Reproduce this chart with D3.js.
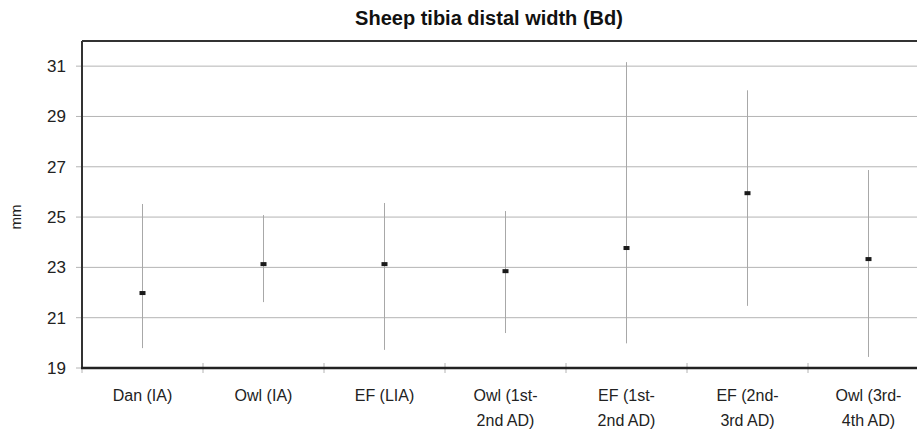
<html>
  <head>
    <script src="https://cdnjs.cloudflare.com/ajax/libs/d3/7.8.5/d3.min.js"></script>
    <style>
      body { margin: 0; background: #fff; font-family: 'Liberation Sans', Arial, sans-serif; }
      svg { display: block; }
      .grid line { stroke: #b4b4b4; stroke-width: 1; }
      .axis text { fill: #222; }
    </style>
  </head>
  <body>
    <svg id="chart"></svg>
    <script>
      // Data
      const sites = [
        ['Dan (IA)'], ['Owl (IA)'], ['EF (LIA)'], ['Owl (1st-', '2nd AD)'],
        ['EF (1st-', '2nd AD)'], ['EF (2nd-', '3rd AD)'], ['Owl (3rd-', '4th AD)']
      ];
      const means = [21.98, 23.13, 23.13, 22.85, 23.77, 25.95, 23.33];
      const maxs  = [25.52, 25.08, 25.56, 25.24, 31.16, 30.04, 26.87];
      const mins  = [19.79, 21.62, 19.72, 20.39, 19.98, 21.47, 19.44];
      const yTicks = [19, 21, 23, 25, 27, 29, 31];

      const W = 917, H = 429;
      const margin = {top: 41, right: -12, bottom: 61, left: 82};
      const width = W - margin.left - margin.right;
      const height = H - margin.top - margin.bottom;

      const svg = d3.select('#chart').attr('width', W).attr('height', H);
      const g = svg.append('g')
        .attr('transform', 'translate(' + margin.left + ',' + margin.top + ')');

      const x = d3.scaleBand().domain(d3.range(sites.length)).range([0, width]);
      const y = d3.scaleLinear().domain([19, 32]).range([height, 0]);

      // gridlines
      g.append('g').attr('class', 'grid')
        .selectAll('line')
        .data(yTicks.slice(1))
        .enter().append('line')
        .attr('x1', -6).attr('x2', width)
        .attr('y1', d => y(d)).attr('y2', d => y(d));

      // y axis labels
      g.append('g').attr('class', 'axis')
        .selectAll('text')
        .data(yTicks)
        .enter().append('text')
        .attr('x', -16)
        .attr('y', d => y(d))
        .attr('dy', '0.35em')
        .attr('text-anchor', 'end')
        .style('font-size', '17px')
        .text(d => d);

      // y tick at 19
      g.append('line').attr('x1', -6).attr('x2', 0)
        .attr('y1', y(19)).attr('y2', y(19))
        .style('stroke', '#b4b4b4');

      // range lines
      g.append('g').selectAll('line')
        .data(sites)
        .enter().append('line')
        .attr('x1', (d, i) => x(i) + x.bandwidth() / 2)
        .attr('x2', (d, i) => x(i) + x.bandwidth() / 2)
        .attr('y1', (d, i) => y(maxs[i]))
        .attr('y2', (d, i) => y(mins[i]))
        .style('stroke', '#a8a8a8')
        .style('stroke-width', 1);

      // mean markers
      g.append('g').selectAll('rect')
        .data(means)
        .enter().append('rect')
        .attr('x', (d, i) => x(i) + x.bandwidth() / 2 - 3)
        .attr('y', d => y(d) - 2)
        .attr('width', 6).attr('height', 4)
        .style('fill', '#1a1a1a');

      // category ticks
      g.append('g').selectAll('line')
        .data(d3.range(sites.length + 1))
        .enter().append('line')
        .attr('x1', i => i * x.step()).attr('x2', i => i * x.step())
        .attr('y1', height - 5).attr('y2', height + 5)
        .style('stroke', '#b4b4b4');

      // frame: top, left, bottom
      g.append('line').attr('x1', 0).attr('x2', width).attr('y1', 0).attr('y2', 0)
        .style('stroke', '#333').style('stroke-width', 2);
      g.append('line').attr('x1', 0).attr('x2', 0).attr('y1', 0).attr('y2', height)
        .style('stroke', '#333').style('stroke-width', 2);
      g.append('line').attr('x1', -1).attr('x2', width).attr('y1', height).attr('y2', height)
        .style('stroke', '#222').style('stroke-width', 2.5);

      // category labels
      const labels = g.append('g').attr('class', 'axis')
        .selectAll('text')
        .data(sites)
        .enter().append('text')
        .attr('x', (d, i) => x(i) + x.bandwidth() / 2)
        .attr('y', height + 33)
        .attr('text-anchor', 'middle')
        .style('font-size', '16px');
      labels.selectAll('tspan')
        .data(d => d)
        .enter().append('tspan')
        .attr('x', function() { return this.parentNode.getAttribute('x'); })
        .attr('dy', (d, i) => i === 0 ? 0 : 25)
        .text(d => d);

      // title
      svg.append('text')
        .attr('x', 489).attr('y', 25)
        .attr('text-anchor', 'middle')
        .style('font-size', '20px')
        .style('font-weight', 'bold')
        .style('fill', '#111')
        .text('Sheep tibia distal width (Bd)');

      // y label
      svg.append('text')
        .attr('transform', 'translate(21,217) rotate(-90)')
        .attr('text-anchor', 'middle')
        .style('font-size', '15px')
        .style('fill', '#222')
        .text('mm');
    </script>
  </body>
</html>
